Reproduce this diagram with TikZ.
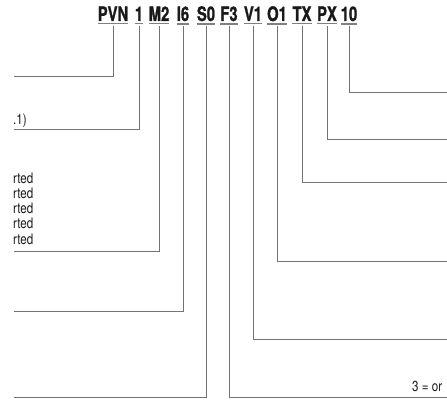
\documentclass[tikz,border=0pt]{standalone}
\usepackage{fontspec}
\setmainfont{TeX Gyre Heros}[FakeStretch=0.8,BoldFeatures={FakeStretch=0.74,FakeBold=1.2}]
\usetikzlibrary{positioning}

\begin{document}
\begin{tikzpicture}[x=1pt,y=-1pt,
		code/.style={anchor=base,inner xsep=0pt,inner ysep=2.5pt,text=black!90,
			font=\bfseries\fontsize{20}{20}\selectfont,
			append after command={(\tikzlastnode.south west) edge[draw=black!50,line width=1.3pt] (\tikzlastnode.south east)}},
		lead/.style={draw=black!55,line width=0.9pt,shorten <=2.5pt},
		note/.style={anchor=west,inner sep=0pt,align=left,text=black!90,font=\fontsize{14.5}{15.3}\selectfont}]
		
		\useasboundingbox (0,0) rectangle (447,403);
		
		% ordering code
		\node[code] (pvn) at (113,21) {PVN};
		\node[code] (size) at (139,21) {1};
		\node[code] (mount) at (159,21) {M2};
		\node[code] (shaft) at (183,21) {I6};
		\node[code] (seal) at (206,21) {S0};
		\node[code] (flange) at (229,21) {F3};
		\node[code] (valve) at (253,21) {V1};
		\node[code] (option) at (277,21) {O1};
		\node[code] (thru) at (302,21) {TX};
		\node[code] (port) at (327,21) {PX};
		\node[code] (disp) at (349,21) {10};
		
		% ends of the leader lines
		\coordinate (pvn-end) at (14,76);
		\coordinate (size-end) at (14,129);
		\coordinate (mount-end) at (14,251);
		\coordinate (shaft-end) at (14,311);
		\coordinate (seal-end) at (14,397);
		\coordinate (flange-end) at (447,397);
		\coordinate (valve-end) at (447,339);
		\coordinate (option-end) at (447,261);
		\coordinate (thru-end) at (447,182);
		\coordinate (port-end) at (447,139);
		\coordinate (disp-end) at (447,92);
		
		% leftover texts
		\node[note] (size-txt) at (13,121) {.1)};
		\node[note] (mount-txt) at (13,208.5) {rted\\rted\\rted\\rted\\rted};
		\node[note] (flange-txt) at (412,386) {3 = or};
		
		\draw[lead] (pvn.south) |- (pvn-end);
		\draw[lead] (size.south) |- (size-end);
		\draw[lead] (mount.south) |- (mount-end);
		\draw[lead] (shaft.south) |- (shaft-end);
		\draw[lead] (seal.south) |- (seal-end);
		\draw[lead] (flange.south) |- (flange-end);
		\draw[lead] (valve.south) |- (valve-end);
		\draw[lead] (option.south) |- (option-end);
		\draw[lead] (thru.south) |- (thru-end);
		\draw[lead] (port.south) |- (port-end);
		\draw[lead] (disp.south) |- (disp-end);
\end{tikzpicture}
\end{document}
